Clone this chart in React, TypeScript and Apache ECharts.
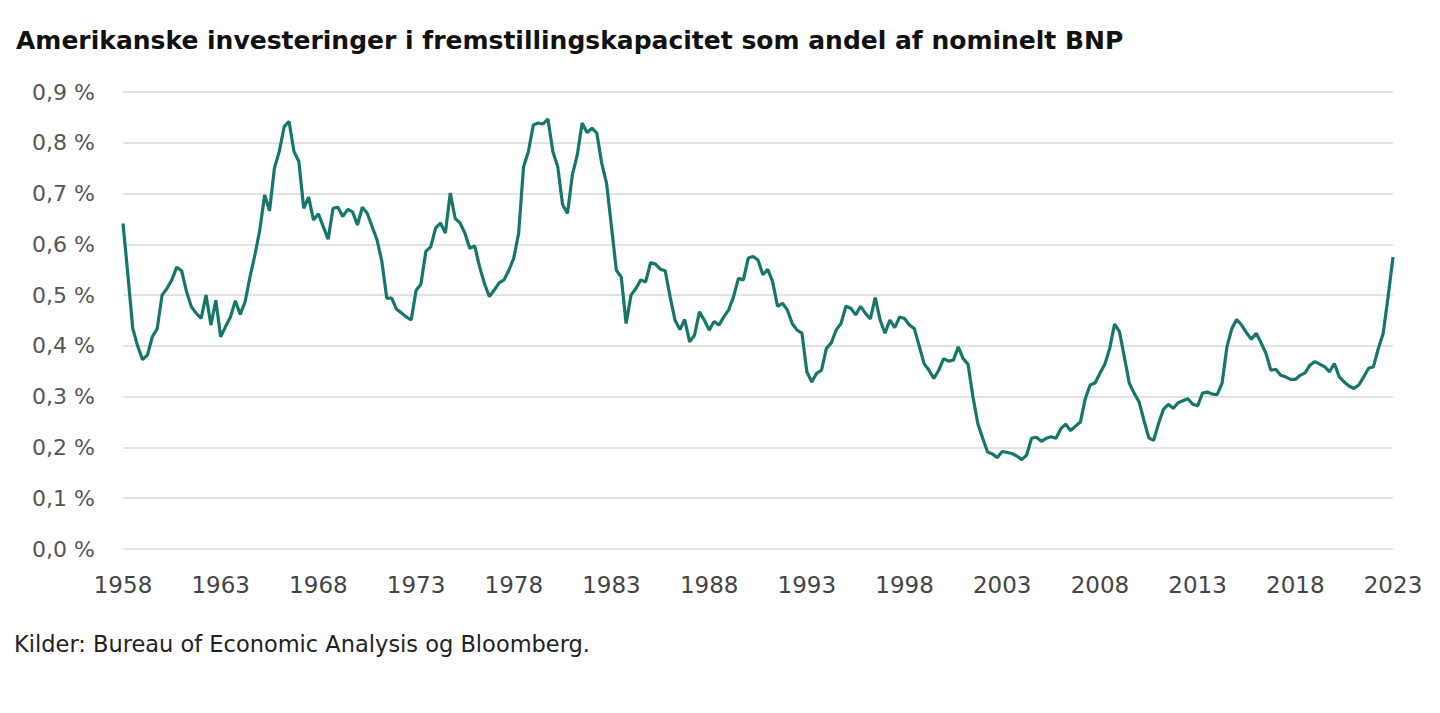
import React, { useEffect, useRef } from "react";
import * as echarts from "echarts";

const TITLE = "Amerikanske investeringer i fremstillingskapacitet som andel af nominelt BNP";
const SOURCE = "Kilder: Bureau of Economic Analysis og Bloomberg.";

const START_YEAR = 1958;

// Quarterly values (% of nominal GDP), 1958 Q1 .. 2023 Q1
const values: number[] = [
  0.641, 0.54, 0.434, 0.40, 0.373, 0.382, 0.418, 0.434, 0.500, 0.513,
  0.530, 0.555, 0.548, 0.507, 0.477, 0.464, 0.454, 0.500, 0.441, 0.490,
  0.418, 0.438, 0.457, 0.489, 0.462, 0.487, 0.536, 0.579, 0.628, 0.697,
  0.666, 0.750, 0.783, 0.832, 0.842, 0.783, 0.763, 0.671, 0.693, 0.648,
  0.660, 0.635, 0.610, 0.671, 0.673, 0.655, 0.669, 0.664, 0.638, 0.673,
  0.661, 0.635, 0.609, 0.566, 0.494, 0.494, 0.472, 0.465, 0.457, 0.451,
  0.509, 0.522, 0.586, 0.595, 0.632, 0.642, 0.622, 0.701, 0.651, 0.642,
  0.622, 0.592, 0.597, 0.556, 0.523, 0.497, 0.510, 0.524, 0.530, 0.549,
  0.573, 0.622, 0.753, 0.783, 0.835, 0.839, 0.837, 0.847, 0.783, 0.753,
  0.678, 0.661, 0.737, 0.776, 0.839, 0.820, 0.829, 0.819, 0.760, 0.720,
  0.635, 0.549, 0.536, 0.444, 0.500, 0.513, 0.530, 0.526, 0.564, 0.561,
  0.551, 0.548, 0.497, 0.451, 0.432, 0.452, 0.408, 0.421, 0.467, 0.451,
  0.431, 0.448, 0.441, 0.457, 0.471, 0.497, 0.533, 0.530, 0.573, 0.576,
  0.569, 0.540, 0.551, 0.526, 0.478, 0.484, 0.471, 0.444, 0.431, 0.425,
  0.349, 0.329, 0.346, 0.352, 0.395, 0.406, 0.431, 0.444, 0.478, 0.474,
  0.461, 0.478, 0.464, 0.453, 0.495, 0.451, 0.425, 0.451, 0.436, 0.457,
  0.454, 0.441, 0.434, 0.400, 0.365, 0.352, 0.336, 0.352, 0.375, 0.370,
  0.372, 0.398, 0.375, 0.364, 0.300, 0.247, 0.218, 0.191, 0.187, 0.180,
  0.192, 0.190, 0.188, 0.183, 0.176, 0.185, 0.218, 0.220, 0.212, 0.218,
  0.221, 0.218, 0.237, 0.246, 0.233, 0.242, 0.250, 0.296, 0.323, 0.327,
  0.346, 0.364, 0.395, 0.443, 0.428, 0.378, 0.327, 0.307, 0.290, 0.254,
  0.219, 0.214, 0.247, 0.275, 0.285, 0.277, 0.288, 0.292, 0.296, 0.285,
  0.282, 0.307, 0.309, 0.305, 0.304, 0.326, 0.398, 0.434, 0.452, 0.441,
  0.426, 0.413, 0.425, 0.406, 0.385, 0.352, 0.354, 0.342, 0.339, 0.334,
  0.334, 0.342, 0.347, 0.362, 0.369, 0.364, 0.359, 0.349, 0.365, 0.339,
  0.329, 0.321, 0.316, 0.323, 0.339, 0.356, 0.359, 0.395, 0.425, 0.497,
  0.575,
];

const quarters: string[] = values.map(
  (_, i) => `${START_YEAR + Math.floor(i / 4)} K${(i % 4) + 1}`
);

const Y_MIN = 0;
const Y_MAX = 0.9;
const Y_STEP = 0.1;

export default function App() {
  const ref = useRef<HTMLDivElement>(null);

  useEffect(() => {
    if (!ref.current) return;
    const chart = echarts.init(ref.current, undefined, { renderer: "svg" });
    chart.setOption({
      animation: false,
      backgroundColor: "#ffffff",
      title: {
        text: TITLE,
        left: 11,
        top: 23,
        textStyle: {
          fontFamily: "DejaVu Sans",
          fontWeight: "bold",
          fontSize: 25,
          color: "#111111",
        },
      },
      graphic: [
        {
          type: "text",
          left: 14,
          top: 632,
          style: {
            text: SOURCE,
            fontFamily: "DejaVu Sans",
            fontSize: 22.5,
            fill: "#222222",
          },
        },
      ],
      grid: { left: 123, right: 47, top: 92, bottom: 164 },
      xAxis: {
        type: "category",
        data: quarters,
        boundaryGap: false,
        axisLine: { show: false },
        axisTick: { show: false },
        splitLine: { show: false },
        axisLabel: {
          interval: (index: number) => index % 20 === 0,
          formatter: (v: string) => v.slice(0, 4),
          color: "#444444",
          fontFamily: "DejaVu Sans",
          fontSize: 23,
          margin: 24,
        },
      },
      yAxis: {
        type: "value",
        min: Y_MIN,
        max: Y_MAX,
        interval: Y_STEP,
        axisLine: { show: false },
        axisTick: { show: false },
        splitLine: { lineStyle: { color: "#e3e3e3", width: 2 } },
        axisLabel: {
          formatter: (v: number) => v.toFixed(1).replace(".", ",") + " %",
          color: "#555555",
          fontFamily: "DejaVu Sans",
          fontSize: 22,
          margin: 28,
        },
      },
      series: [
        {
          type: "line",
          data: values,
          showSymbol: false,
          symbol: "none",
          lineStyle: { color: "#17766a", width: 3.2 },
        },
      ],
    });
    return () => chart.dispose();
  }, []);

  return (
    <div
      ref={ref}
      style={{ position: "fixed", left: 0, top: 0, width: 1440, height: 713 }}
    />
  );
}
